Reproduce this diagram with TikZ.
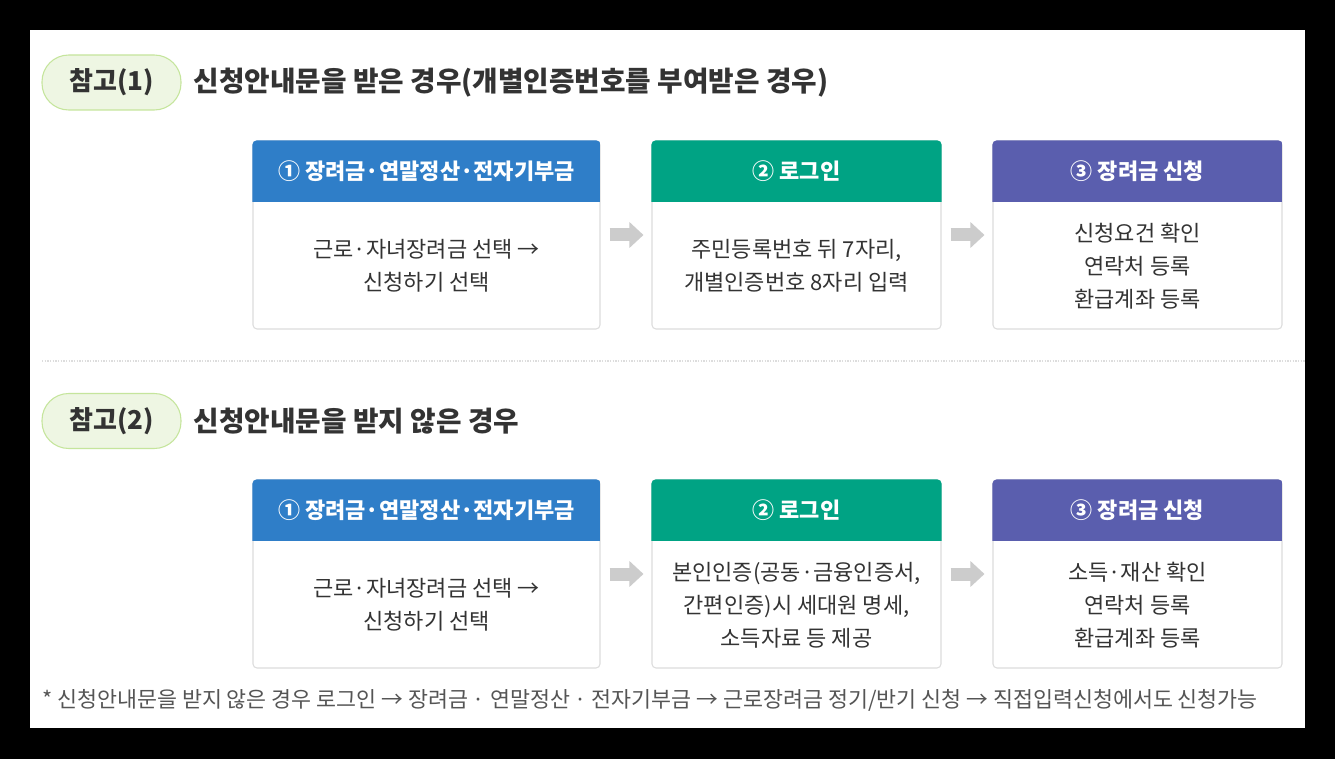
\documentclass[tikz,border=0pt]{standalone}
\usepackage{fontspec}
\setmainfont{Noto Sans CJK KR}
\usepackage{xcolor}
\usetikzlibrary{arrows.meta,fit,positioning}

\definecolor{stepblue}{HTML}{2F7EC8}
\definecolor{stepgreen}{HTML}{00A384}
\definecolor{steppurple}{HTML}{5A5EAE}
\definecolor{pillfill}{HTML}{EEF6E3}
\definecolor{pillline}{HTML}{C5E59C}
\definecolor{cardline}{HTML}{DDDDDD}
\definecolor{arrowgray}{HTML}{CCCCCC}
\definecolor{darktext}{HTML}{333333}
\definecolor{notetext}{HTML}{555555}

\begin{document}
\begin{tikzpicture}[x=0.75pt, y=-0.75pt,
	card/.style={draw=cardline, line width=0.8pt, fill=white, rounded corners=3pt, inner sep=0pt},
	head/.style={text=white, font=\bfseries\fontsize{16.5}{18}\selectfont},
	body/.style={text=darktext, align=center, font=\fontsize{16.5}{24.75}\selectfont},
	pill/.style={draw=pillline, line width=0.8pt, fill=pillfill, rounded corners=20pt, inner sep=0pt,
		minimum width=104.25pt, minimum height=41.25pt, text=darktext, font=\bfseries\fontsize{19.5}{22}\selectfont},
	title/.style={text=darktext, inner sep=0pt, font=\bfseries\fontsize{20.8}{22}\selectfont},
	note/.style={text=notetext, inner sep=0pt, font=\fontsize{16.3}{18}\selectfont},
	flow/.style={draw=arrowgray, line width=9.75pt, -{Triangle[length=10.5pt,width=18.75pt]},
		shorten <=6.75pt, shorten >=6pt}]

\fill[black] (0,0) rectangle (1335,759);
\fill[white] (30,30) rectangle (1305,728);

\foreach \r/\t in {1/141, 2/480}
{
	\foreach \n/\a/\b/\c/\s in {menu/253/600/stepblue/{① 장려금·연말정산·전자기부금},
		login/652/941/stepgreen/{② 로그인}, claim/993/1282/steppurple/{③ 장려금 신청}}
	{
		\node[card, fit={(\a,\t) (\b,\t+188)}] (\n\r) {};
		\begin{scope}
			\clip[rounded corners=3pt] (\n\r.north west) rectangle (\n\r.south east);
			\fill[\c] (\n\r.north west) rectangle ([yshift=-46.5pt]\n\r.north east);
		\end{scope}
		\node[head] (\n\r-head) at ([yshift=-23.25pt]\n\r.north) {\s};
	}
	\draw[flow] (menu\r) -- (login\r);
	\draw[flow] (login\r) -- (claim\r);
}

\node[pill] (pill1) at (111.5,82.5) {참고(1)};
\node[title, right=9pt of pill1] (title1) {신청안내문을 받은 경우(개별인증번호를 부여받은 경우)};

\node[body] (menu1-text) at ([yshift=-23.25pt]menu1.center) {근로·자녀장려금 선택 →\\신청하기 선택};
\node[body] (login1-text) at ([yshift=-23.25pt]login1.center) {주민등록번호 뒤 7자리,\\개별인증번호 8자리 입력};
\node[body] (claim1-text) at ([yshift=-23.25pt]claim1.center) {신청요건 확인\\연락처 등록\\환급계좌 등록};

\draw[cardline, line width=0.8pt, dash pattern=on 1pt off 1pt] (42,361) -- (1305,361);

\node[pill] (pill2) at (111.5,421) {참고(2)};
\node[title, right=9pt of pill2] (title2) {신청안내문을 받지 않은 경우};

\node[body] (menu2-text) at ([yshift=-23.25pt]menu2.center) {근로·자녀장려금 선택 →\\신청하기 선택};
\node[body] (login2-text) at ([yshift=-23.25pt]login2.center) {본인인증(공동·금융인증서,\\간편인증)시 세대원 명세,\\소득자료 등 제공};
\node[body] (claim2-text) at ([yshift=-23.25pt]claim2.center) {소득·재산 확인\\연락처 등록\\환급계좌 등록};

\node[note, anchor=west] (note) at (42,700) {* 신청안내문을 받지 않은 경우 로그인 → 장려금 · 연말정산 · 전자기부금 → 근로장려금 정기/반기 신청 → 직접입력신청에서도 신청가능};

\end{tikzpicture}
\end{document}
